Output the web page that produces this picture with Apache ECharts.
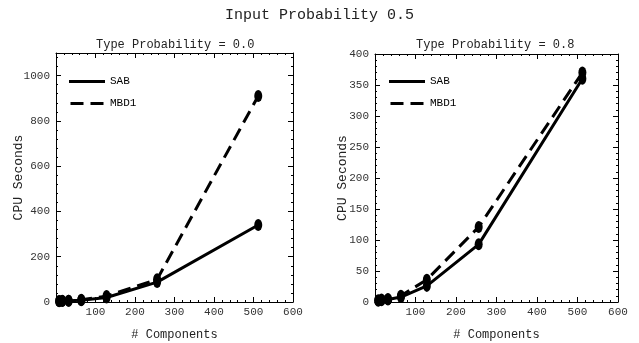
<!DOCTYPE html>
<html>
<head>
<meta charset="utf-8">
<script src="https://cdn.jsdelivr.net/npm/echarts@6/dist/echarts.min.js"></script>
<style>
  html, body { margin: 0; padding: 0; background: #fff; }
  #main { width: 639px; height: 343px; }
</style>
</head>
<body>
<div id="main"></div>
<script>
// number of components (x values)
const components = [8, 16, 32, 64, 128, 256, 512];

// Type Probability = 0.0
const sabLeft = [3, 4, 5, 8, 20, 88, 340];
const mbdLeft = [4, 5, 6, 10, 26, 100, 910];

// Type Probability = 0.8
const sabRight = [2, 3, 4, 8, 26, 93, 360];
const mbdRight = [3, 4, 5, 10, 36, 121, 370];

const xTicks = [100, 200, 300, 400, 500, 600];

const FONT = "Liberation Mono";
const solidIcon = "path://M0,0H36V3H0Z";
const dashIcon = "path://M0,0H13V3H0Z M20,0H33V3H20Z";

const pairs = (xs, ys) => xs.map((x, i) => [x, ys[i]]);

const chartDom = document.getElementById("main");
const myChart = echarts.init(chartDom, null, { renderer: "canvas" });

const axisCommon = {
  axisLine: { show: true, onZero: false, lineStyle: { color: "#000", width: 1 } },
  axisTick: { show: true, inside: true, length: 5, lineStyle: { color: "#000" } },
  minorTick: { show: true, splitNumber: 5, length: 2, lineStyle: { color: "#000" } },
  splitLine: { show: false },
};

const xAxisFor = (grid, top) => ({
  ...axisCommon,
  type: "value",
  gridIndex: grid,
  position: top ? "top" : "bottom",
  min: 0,
  max: 600,
  interval: 100,
  name: top ? "" : "# Components",
  nameLocation: "middle",
  nameGap: 27,
  nameMoveOverlap: false,
  nameTextStyle: { fontFamily: FONT, fontSize: 12, color: "#222" },
  axisLabel: {
    show: !top,
    fontFamily: FONT,
    fontSize: 11,
    color: "#333",
    margin: 5,
    formatter: (v) => (xTicks.includes(v) ? String(v) : ""),
  },
});

const yAxisFor = (grid, right, max, interval, gap) => ({
  ...axisCommon,
  type: "value",
  gridIndex: grid,
  position: right ? "right" : "left",
  min: 0,
  max: max,
  interval: interval,
  name: right ? "" : "CPU Seconds",
  nameLocation: "middle",
  nameGap: gap,
  nameMoveOverlap: false,
  nameTextStyle: { fontFamily: FONT, fontSize: 13, color: "#222" },
  axisLabel: {
    show: !right,
    fontFamily: FONT,
    fontSize: 11,
    color: "#333",
    margin: 6,
    formatter: (v) => (v % interval === 0 ? String(v) : ""),
  },
});

const lineSeries = (name, data, xi, yi, dashed) => ({
  name: name,
  type: "line",
  xAxisIndex: xi,
  yAxisIndex: yi,
  data: data,
  symbol: "circle",
  symbolSize: [8, 12],
  showSymbol: true,
  itemStyle: { color: "#000" },
  lineStyle: { color: "#000", width: 3, type: dashed ? [13, 7] : "solid" },
  animation: false,
});

const legendFor = (left) => ({
  left: left,
  top: 71,
  orient: "vertical",
  itemWidth: 36,
  itemHeight: 3,
  itemGap: 11,
  selectedMode: false,
  textStyle: { fontFamily: FONT, fontSize: 11, color: "#000" },
  data: [
    { name: "SAB", icon: solidIcon },
    { name: "MBD1", icon: dashIcon },
  ],
});

const option = {
  backgroundColor: "#fff",
  animation: false,
  title: [
    {
      text: "Input Probability 0.5",
      left: "center",
      top: 3,
      textStyle: { fontFamily: FONT, fontSize: 15, fontWeight: "normal", color: "#222" },
    },
    {
      text: "Type Probability = 0.0",
      left: 91,
      top: 34,
      textStyle: { fontFamily: FONT, fontSize: 12, fontWeight: "normal", color: "#222" },
    },
    {
      text: "Type Probability = 0.8",
      left: 411,
      top: 34,
      textStyle: { fontFamily: FONT, fontSize: 12, fontWeight: "normal", color: "#222" },
    },
  ],
  legend: [legendFor(64), legendFor(384)],
  grid: [
    { left: 56, right: 346, top: 53, bottom: 41, containLabel: false, outerBoundsMode: "none" },
    { left: 375, right: 21, top: 54, bottom: 41, containLabel: false, outerBoundsMode: "none" },
  ],
  xAxis: [xAxisFor(0, false), xAxisFor(0, true), xAxisFor(1, false), xAxisFor(1, true)],
  yAxis: [
    yAxisFor(0, false, 1100, 200, 31),
    yAxisFor(0, true, 1100, 200, 31),
    yAxisFor(1, false, 400, 50, 26),
    yAxisFor(1, true, 400, 50, 26),
  ],
  series: [
    lineSeries("SAB", pairs(components, sabLeft), 0, 0, false),
    lineSeries("MBD1", pairs(components, mbdLeft), 0, 0, true),
    lineSeries("SAB", pairs(components, sabRight), 2, 2, false),
    lineSeries("MBD1", pairs(components, mbdRight), 2, 2, true),
  ],
};

myChart.setOption(option);
</script>
</body>
</html>
